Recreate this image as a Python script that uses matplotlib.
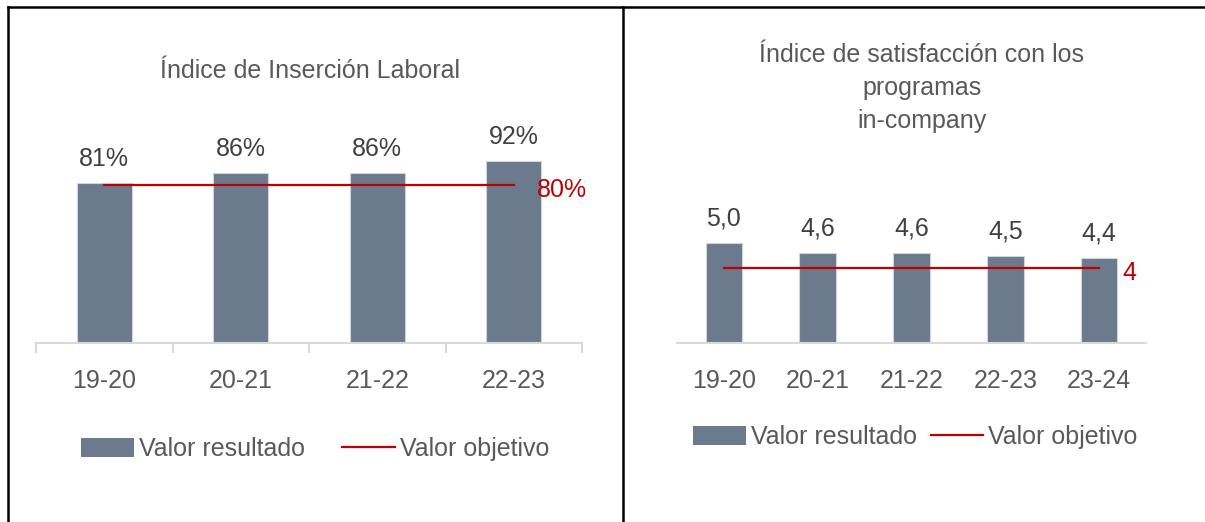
import matplotlib
matplotlib.use("Agg")
import matplotlib.pyplot as plt
from matplotlib.lines import Line2D
from matplotlib.patches import Patch

# ---------------- data ----------------
cursos_ins = ["19-20", "20-21", "21-22", "22-23"]
insercion = [81, 86, 86, 92]          # %
objetivo_ins = 80

cursos_sat = ["19-20", "20-21", "21-22", "22-23", "23-24"]
satisfaccion = [5.0, 4.6, 4.6, 4.5, 4.4]
objetivo_sat = 4

# ---------------- style ----------------
plt.rcParams['font.family'] = ['Liberation Sans', 'DejaVu Sans']
GRIS_TXT = "#595959"
BARRA = "#6b7a8d"
ROJO = "#c00000"
EJE = "#d9d9d9"
FS = 18

W, H = 1205, 522
fig = plt.figure(figsize=(W / 100, H / 100), dpi=100)


def px(x0, y_top, w, h):
    # pixel box (origin top-left) -> figure fraction
    return [x0 / W, (H - y_top - h) / H, w / W, h / H]


def dibujar(ax, cats, vals, obj, fmt, obj_txt, ticks_sep):
    x = list(range(len(cats)))
    ax.bar(x, vals, width=0.4 if ticks_sep else 0.39, color=BARRA,
           edgecolor="#cfd5dd", linewidth=0.8, zorder=2)
    ax.plot([x[0], x[-1]], [obj, obj], color=ROJO, linewidth=1.6, zorder=3)
    ax.annotate(obj_txt, xy=(x[-1], obj), xytext=(16.5, -8.5),
                textcoords="offset points", ha="left", va="baseline",
                color=ROJO, fontsize=FS)
    for xi, v in zip(x, vals):
        ax.annotate(fmt(v), xy=(xi, v), xytext=(0, 12.5),
                    textcoords="offset points", ha="center", va="baseline",
                    color="#404040", fontsize=FS)
    ax.set_xlim(-0.5, len(cats) - 0.5)
    for s in ["top", "left", "right"]:
        ax.spines[s].set_visible(False)
    ax.spines["bottom"].set_color(EJE)
    ax.spines["bottom"].set_linewidth(1.5)
    ax.set_yticks([])
    ax.set_xticks(x)
    ax.set_xticklabels(cats, fontsize=FS, color=GRIS_TXT)
    ax.tick_params(axis="x", which="major", length=0, pad=19)
    if ticks_sep:
        ax.set_xticks([i - 0.5 for i in range(len(cats) + 1)], minor=True)
        ax.tick_params(axis="x", which="minor", length=7.5, width=1.5,
                       color=EJE, direction="out")
    ax.patch.set_visible(False)


# left chart
ax1 = fig.add_axes(px(36, 145.5, 546, 197.5))
ax1.set_ylim(0, 100)
dibujar(ax1, cursos_ins, insercion, objetivo_ins,
        lambda v: f"{v:.0f}%", f"{objetivo_ins}%", True)

# right chart
ax2 = fig.add_axes(px(677, 218, 469, 125))
ax2.set_ylim(1, 6)
dibujar(ax2, cursos_sat, satisfaccion, objetivo_sat,
        lambda v: f"{v:.1f}".replace(".", ","), f"{objetivo_sat}", False)

# titles
fig.text(310 / W, 1 - 71 / H, "Índice de Inserción Laboral", ha="center",
         va="center", fontsize=FS, color=GRIS_TXT)
fig.text(922 / W, 1 - 88 / H, "Índice de satisfacción con los\nprogramas\nin-company",
         ha="center", va="center", fontsize=FS, color=GRIS_TXT,
         multialignment="center", linespacing=1.47)

# legends
handles = [Patch(facecolor=BARRA, edgecolor="none", label="Valor resultado"),
           Line2D([], [], color=ROJO, linewidth=1.6, label="Valor objetivo")]
for cx, cy, sep in [(315, 449, 1.5), (915.5, 437, 0.55)]:
    fig.legend(handles=handles, loc="center", bbox_to_anchor=(cx / W, 1 - cy / H),
               ncol=2, frameon=False, fontsize=FS, labelcolor=GRIS_TXT,
               handlelength=2.1, handleheight=0.76, handletextpad=0.2,
               columnspacing=sep, borderpad=0, borderaxespad=0)

# table borders
for xs, ys in [([8, W], [7, 7]), ([8, 8], [7, H]), ([623, 623], [7, H])]:
    fig.add_artist(Line2D([x / W for x in xs], [1 - y / H for y in ys],
                          transform=fig.transFigure, color="black", linewidth=1.8))

fig.savefig("out.png", dpi=100)
